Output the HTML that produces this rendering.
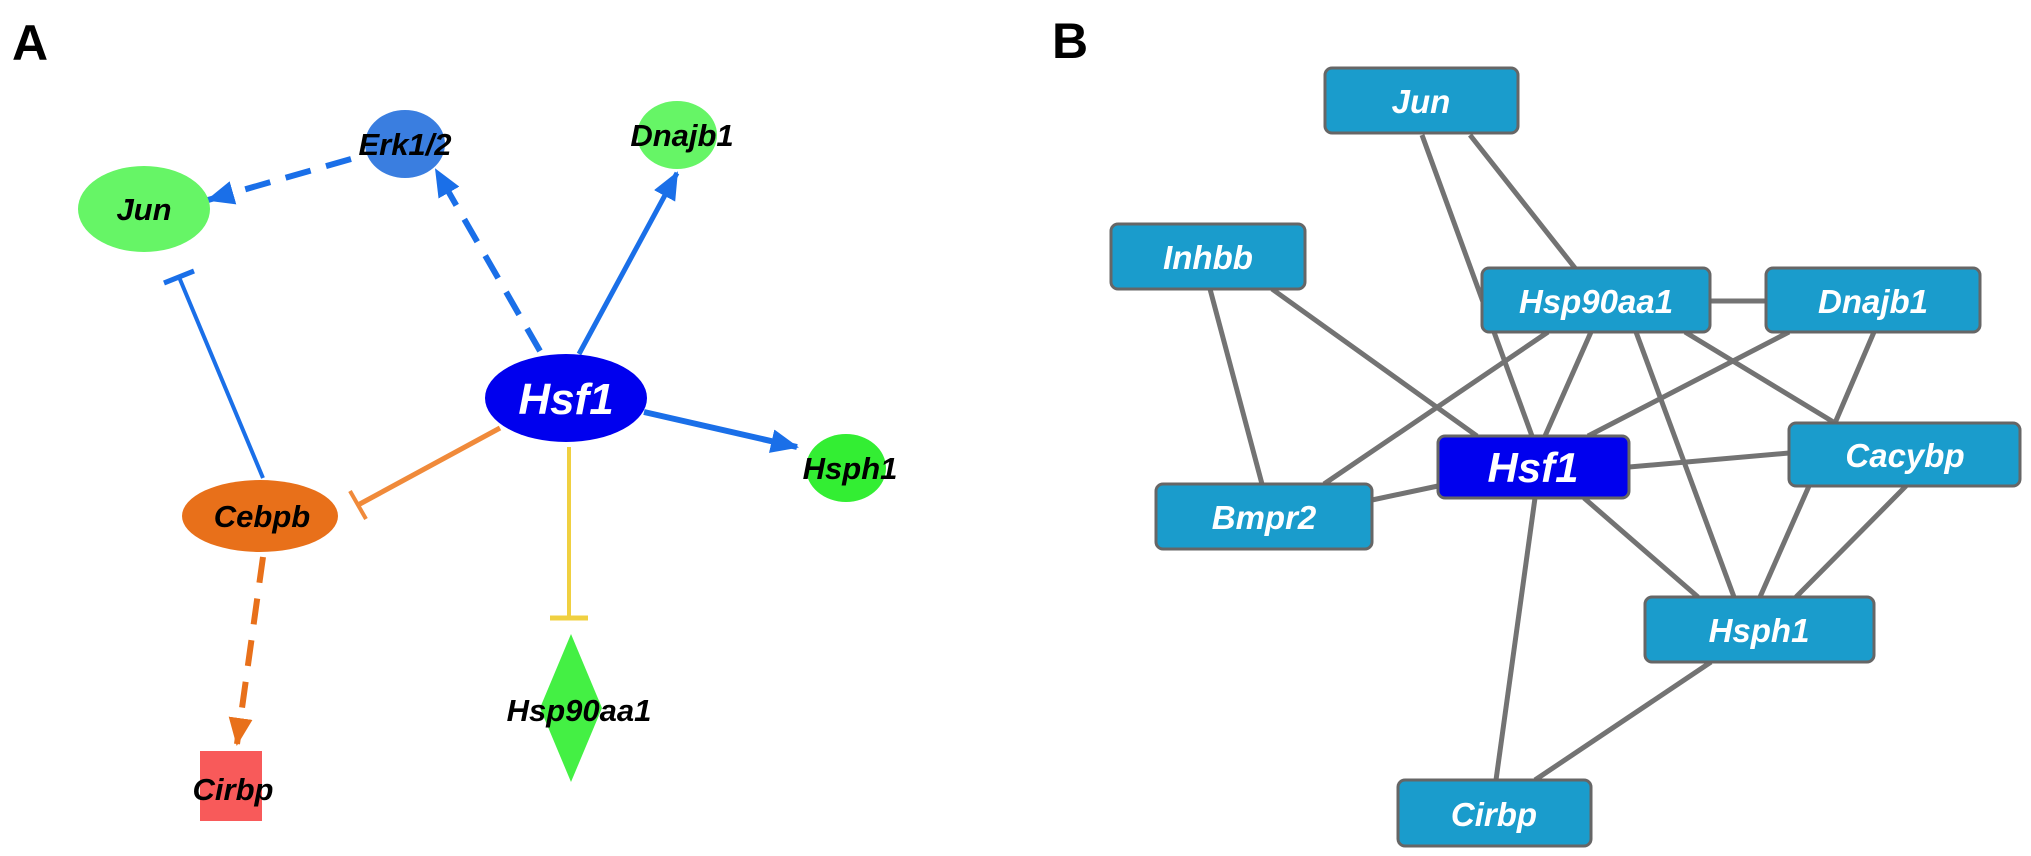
<!DOCTYPE html>
<html><head><meta charset="utf-8"><style>
html,body{margin:0;padding:0;background:#fff;}
svg{display:block;}
text{font-family:"Liberation Sans",Arial,sans-serif;font-weight:bold;font-style:italic;}
</style></head><body>
<svg width="2031" height="856" viewBox="0 0 2031 856" xmlns="http://www.w3.org/2000/svg">
<defs>
<marker id="ab" markerUnits="userSpaceOnUse" markerWidth="32" markerHeight="26" refX="26" refY="12" orient="auto"><path d="M0,0 L28,12 L0,24 z" fill="#1a6fe8"/></marker>
<marker id="ao" markerUnits="userSpaceOnUse" markerWidth="32" markerHeight="26" refX="26" refY="12" orient="auto"><path d="M0,0 L28,12 L0,24 z" fill="#e8701a"/></marker>
</defs>
<!-- Panel A -->
<text x="12" y="60" font-size="50" fill="#000" style="font-style:normal">A</text>
<g fill="none" stroke-width="6">
<line x1="351" y1="159" x2="208" y2="200" stroke="#1a6fe8" stroke-dasharray="26 16" marker-end="url(#ab)"/>
<line x1="540" y1="351" x2="436" y2="170" stroke="#1a6fe8" stroke-dasharray="26 16" marker-end="url(#ab)"/>
<line x1="579" y1="354" x2="677" y2="173" stroke="#1a6fe8" stroke-width="5" marker-end="url(#ab)"/>
<line x1="644" y1="412" x2="797" y2="447" stroke="#1a6fe8" marker-end="url(#ab)"/>
<line x1="500" y1="428" x2="358" y2="505" stroke="#f08a3a" stroke-width="5"/>
<line x1="350" y1="491" x2="366" y2="519" stroke="#f08a3a" stroke-width="4"/>
<line x1="569" y1="447" x2="569" y2="618" stroke="#f0d040" stroke-width="4"/>
<line x1="550" y1="618" x2="588" y2="618" stroke="#f0d040" stroke-width="5"/>
<line x1="263" y1="478" x2="179" y2="277" stroke="#1a6fe8" stroke-width="4"/>
<line x1="164" y1="283" x2="194" y2="271" stroke="#1a6fe8" stroke-width="5"/>
<line x1="263" y1="557" x2="237" y2="744" stroke="#e8701a" stroke-dasharray="26 16" marker-end="url(#ao)"/>
</g>
<ellipse cx="144" cy="209" rx="66" ry="43" fill="#66f566"/>
<ellipse cx="405" cy="144" rx="40" ry="34" fill="#3a7ee0"/>
<ellipse cx="677" cy="135" rx="40" ry="34" fill="#66f566"/>
<ellipse cx="566" cy="398" rx="81" ry="44" fill="#0000ee"/>
<ellipse cx="846" cy="468" rx="40" ry="34" fill="#33ee33"/>
<ellipse cx="260" cy="516" rx="78" ry="36" fill="#e8701a"/>
<polygon points="571,634 602,708 571,782 540,708" fill="#44f044"/>
<rect x="200" y="751" width="62" height="70" fill="#f85a5a"/>
<g font-size="31" fill="#000" text-anchor="middle">
<text x="144" y="220">Jun</text>
<text x="405" y="155">Erk1/2</text>
<text x="682" y="146">Dnajb1</text>
<text x="850" y="479">Hsph1</text>
<text x="262" y="527">Cebpb</text>
<text x="579" y="721">Hsp90aa1</text>
<text x="233" y="800">Cirbp</text>
</g>
<text x="566" y="414" font-size="44" fill="#fff" text-anchor="middle">Hsf1</text>
<!-- Panel B -->
<text x="1052" y="58" font-size="50" fill="#000" style="font-style:normal">B</text>
<g stroke="#737373" stroke-width="5">
<line x1="1422" y1="135" x2="1532" y2="436"/>
<line x1="1470" y1="135" x2="1575" y2="268"/>
<line x1="1210" y1="289" x2="1262" y2="484"/>
<line x1="1272" y1="289" x2="1477" y2="436"/>
<line x1="1710" y1="301" x2="1766" y2="301"/>
<line x1="1548" y1="332" x2="1324" y2="484"/>
<line x1="1591" y1="332" x2="1545" y2="436"/>
<line x1="1636" y1="332" x2="1734" y2="597"/>
<line x1="1685" y1="332" x2="1835" y2="423"/>
<line x1="1789" y1="332" x2="1588" y2="436"/>
<line x1="1874" y1="332" x2="1835" y2="423"/>
<line x1="1629" y1="467" x2="1789" y2="453"/>
<line x1="1372" y1="500" x2="1438" y2="486"/>
<line x1="1584" y1="498" x2="1698" y2="597"/>
<line x1="1809" y1="486" x2="1760" y2="597"/>
<line x1="1906" y1="486" x2="1796" y2="597"/>
<line x1="1535" y1="498" x2="1496" y2="780"/>
<line x1="1711" y1="662" x2="1535" y2="780"/>
</g>
<g fill="#1a9ccc" stroke="#666" stroke-width="3">
<rect x="1325" y="68" width="193" height="65" rx="7"/>
<rect x="1111" y="224" width="194" height="65" rx="7"/>
<rect x="1482" y="268" width="228" height="64" rx="7"/>
<rect x="1766" y="268" width="214" height="64" rx="7"/>
<rect x="1438" y="436" width="191" height="62" rx="7" fill="#0000ee"/>
<rect x="1789" y="423" width="231" height="63" rx="7"/>
<rect x="1156" y="484" width="216" height="65" rx="7"/>
<rect x="1645" y="597" width="229" height="65" rx="7"/>
<rect x="1398" y="780" width="193" height="66" rx="7"/>
</g>
<g font-size="33" fill="#fff" text-anchor="middle">
<text x="1421" y="113">Jun</text>
<text x="1208" y="269">Inhbb</text>
<text x="1596" y="313">Hsp90aa1</text>
<text x="1873" y="313">Dnajb1</text>
<text x="1905" y="467">Cacybp</text>
<text x="1264" y="529">Bmpr2</text>
<text x="1759" y="642">Hsph1</text>
<text x="1494" y="826">Cirbp</text>
</g>
<text x="1533" y="482" font-size="42" fill="#fff" text-anchor="middle">Hsf1</text>
</svg>
</body></html>
